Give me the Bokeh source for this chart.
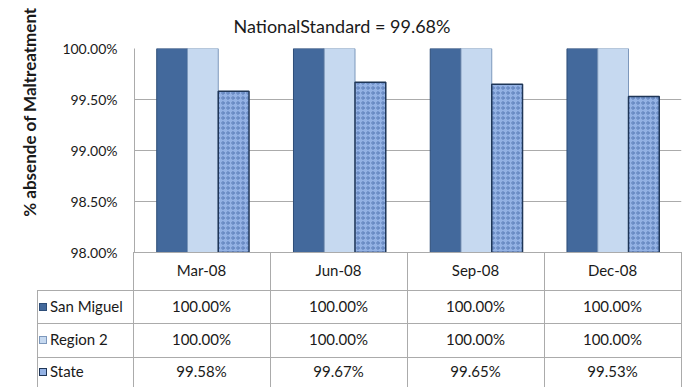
from bokeh.plotting import figure
from bokeh.layouts import column
from bokeh.models import (FactorRange, Range1d, FixedTicker, PrintfTickFormatter,
                          ColumnDataSource, Title, Div)
from bokeh.transform import dodge
from bokeh.embed import file_html
from bokeh.resources import INLINE

# ---------------- data ----------------
months = ["Mar-08", "Jun-08", "Sep-08", "Dec-08"]
series_names = ["San Miguel", "Region 2", "State"]
san_miguel = [100.00, 100.00, 100.00, 100.00]
region_2 = [100.00, 100.00, 100.00, 100.00]
state = [99.58, 99.67, 99.65, 99.53]
y_ticks = [98.0, 98.5, 99.0, 99.5, 100.0]
title_text = "NationalStandard = 99.68%"
y_label = "% absende of Maltreatment"

FONT = "Lato"
GRID = "#ABABAB"
TXT = "#1A1A1A"
colors = {"San Miguel": ("#43699C", "#2D4D78"),
          "Region 2": ("#C6D9F0", "#7D98BC"),
          "State": ("#94B2E4", "#1F3657")}

src = ColumnDataSource(dict(month=months, sm=san_miguel, r2=region_2, st=state))

# ---------------- chart ----------------
p = figure(width=690, height=262, x_range=FactorRange(*months),
           y_range=Range1d(98, 100), output_backend="svg", toolbar_location=None,
           x_axis_location=None, min_border_left=133, min_border_right=9,
           min_border_top=46, min_border_bottom=10)
p.outline_line_color = None
p.xgrid.grid_line_color = None
p.ygrid.grid_line_color = GRID
p.ygrid.grid_line_width = 1
p.yaxis.ticker = FixedTicker(ticks=y_ticks)
p.yaxis.formatter = PrintfTickFormatter(format="%.2f%%")
p.yaxis.major_tick_line_color = None
p.yaxis.minor_tick_line_color = None
p.yaxis.major_tick_out = 0
p.yaxis.major_tick_in = 0
p.yaxis.axis_line_color = GRID
p.yaxis.major_label_standoff = 17
p.yaxis.major_label_text_font = FONT
p.yaxis.major_label_text_font_size = "14px"
p.yaxis.major_label_text_color = TXT

p.add_layout(Title(text=title_text, align="left", offset=99, standoff=24,
                   text_font=FONT, text_font_size="18px", text_font_style="normal",
                   text_color=TXT), "above")
p.add_layout(Title(text=y_label, align="right", offset=-41, standoff=36,
                   vertical_align="top",
                   text_font=FONT, text_font_size="17px", text_font_style="bold",
                   text_color=TXT), "left")

bw = 0.225
p.vbar(x=dodge("month", -bw, range=p.x_range), top="sm", bottom=98, width=bw,
       source=src, fill_color=colors["San Miguel"][0], line_color=colors["San Miguel"][1])
p.vbar(x=dodge("month", 0, range=p.x_range), top="r2", bottom=98, width=bw,
       source=src, fill_color=colors["Region 2"][0], line_color=colors["Region 2"][1])
p.vbar(x=dodge("month", bw, range=p.x_range), top="st", bottom=98, width=bw,
       source=src, fill_color=colors["State"][0], line_color=colors["State"][1],
       line_width=1.5, hatch_pattern="ring", hatch_color="#3A5F9E",
       hatch_scale=5, hatch_alpha=0.6, hatch_weight=1)

# ---------------- data table (HTML, built from the arrays) ----------------
col_left = 133      # first month column left edge (px)
col_w = 137         # month column width (px)
leg_left = 37       # legend column left edge
row_edges = [0, 38, 71, 105, 135]


def box(x, y, w, h, extra=""):
    return ('<div style="position:absolute;left:%spx;top:%spx;width:%spx;height:%spx;%s"></div>'
            % (x, y, w, h, extra))


def cell(x, y, w, h, txt, justify="center", pad=0):
    return ('<div style="position:absolute;left:%spx;top:%spx;width:%spx;height:%spx;'
            'display:flex;align-items:center;justify-content:%s;padding-left:%spx;'
            'box-sizing:border-box;white-space:nowrap">%s</div>'
            % (x, y, w, h, justify, pad, txt))


n = len(months)
right = col_left + n * col_w
parts = []
parts.append(box(col_left, 0, right - col_left + 1, 1, "background:%s" % GRID))
for yy in row_edges[1:4]:
    parts.append(box(leg_left, yy, right - leg_left + 1, 1, "background:%s" % GRID))
for i in range(n + 1):
    parts.append(box(col_left + i * col_w, 0, 1, row_edges[-1], "background:%s" % GRID))
parts.append(box(leg_left, row_edges[1], 1, row_edges[-1] - row_edges[1],
                 "background:%s" % GRID))
for i, m in enumerate(months):
    parts.append(cell(col_left + i * col_w, row_edges[0], col_w, row_edges[1] - row_edges[0], m))
for r, (name, vals) in enumerate(zip(series_names, [san_miguel, region_2, state])):
    y0, y1 = row_edges[r + 1], row_edges[r + 2]
    fc, lc = colors[name]
    sw = ('<span style="display:inline-block;width:8px;height:8px;background:%s;'
          'border:1px solid %s;margin-right:3px"></span>%s' % (fc, lc, name))
    parts.append(cell(leg_left + 2, y0, col_left - leg_left - 2, y1 - y0, sw,
                      justify="flex-start", pad=0))
    for i, v in enumerate(vals):
        parts.append(cell(col_left + i * col_w, y0, col_w, y1 - y0, "%.2f%%" % v))

html = ('<div style="position:relative;width:690px;height:135px;font-family:Lato;'
        'font-size:15px;color:%s;overflow:visible">%s</div>' % (TXT, "".join(parts)))

table = Div(text=html, width=690, height=135, margin=(-10, 0, 0, 0))

layout = column(p, table, spacing=0)
open("out.html", "w").write(file_html(layout, INLINE))
